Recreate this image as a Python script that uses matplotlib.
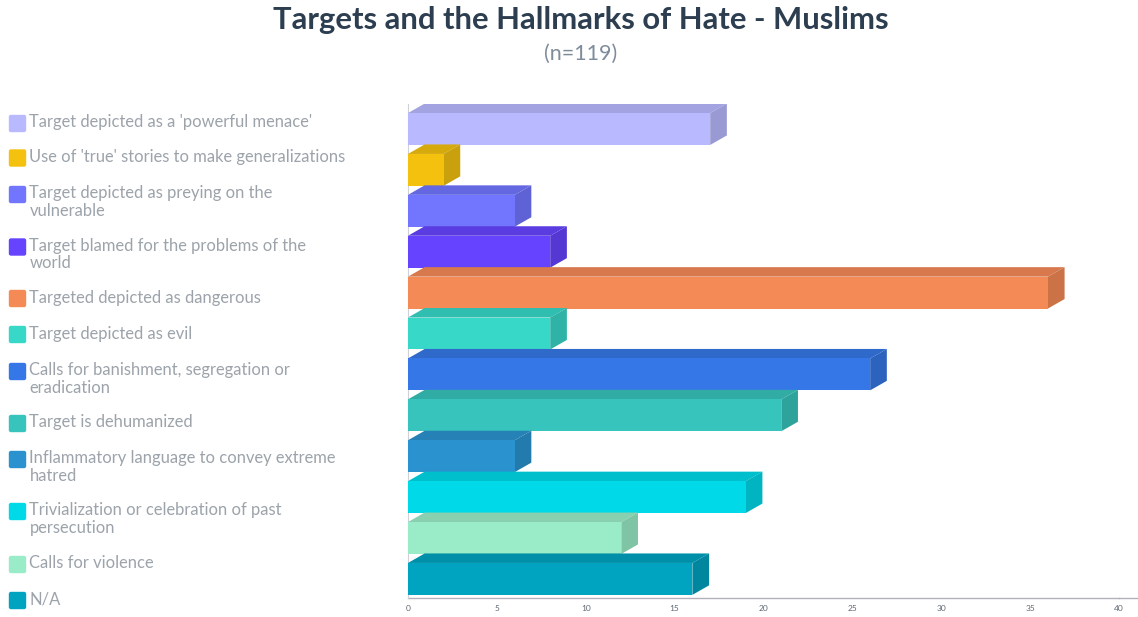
import matplotlib
matplotlib.use('Agg')
import matplotlib.pyplot as plt
from matplotlib.colors import to_rgb
from matplotlib.patches import Polygon, FancyBboxPatch

plt.rcParams['font.family'] = ['Lato', 'DejaVu Sans']

# data, top bar first
labels = ["Target depicted as a 'powerful menace'",
          "Use of 'true' stories to make generalizations",
          "Target depicted as preying on the\nvulnerable",
          "Target blamed for the problems of the\nworld",
          "Targeted depicted as dangerous",
          "Target depicted as evil",
          "Calls for banishment, segregation or\neradication",
          "Target is dehumanized",
          "Inflammatory language to convey extreme\nhatred",
          "Trivialization or celebration of past\npersecution",
          "Calls for violence",
          "N/A"]
values = [17, 2, 6, 8, 36, 8, 26, 21, 6, 19, 12, 16]
colors = ['#b8b9ff', '#f3c10e', '#7276ff', '#6644ff', '#f48a56', '#37d8c8',
          '#3577e6', '#36c4bc', '#2a93cf', '#00d9e8', '#9aecc8', '#00a3c0']
xticks = [0, 5, 10, 15, 20, 25, 30, 35, 40]
legend_y = [123.5, 158, 194.5, 247, 298.5, 334.5, 371.5, 423.5, 459.5, 511.5, 564.5, 600.5]

W, H = 1138, 617
fig = plt.figure(figsize=(W / 100, H / 100), dpi=100)

# overlay in pixel coordinates for titles and legend
bg = fig.add_axes([0, 0, 1, 1])
bg.set_xlim(0, W)
bg.set_ylim(H, 0)
bg.axis('off')

ax_left, ax_right, ax_top, ax_bottom = 408, 1119, 104, 598
ax = fig.add_axes([ax_left / W, 1 - ax_bottom / H, (ax_right - ax_left) / W, (ax_bottom - ax_top) / H])
ax.patch.set_alpha(0)

row = 40.9  # px per category
center0 = 129
ax.set_xlim(0, 40)
ax.set_ylim((ax_bottom - center0) / row, (ax_top - center0) / row)

bar_h = 0.78
dx = 16.7 / 17.8   # depth in x units
dy = 9.5 / row     # depth in category units


def shade(c, k):
    r, g, b = to_rgb(c)
    return (r * k, g * k, b * k)


for i, (v, c) in enumerate(zip(values, colors)):
    z = 3 + i
    top = i - bar_h / 2
    bot = i + bar_h / 2
    ax.add_patch(Polygon([(0, top), (dx, top - dy), (v + dx, top - dy), (v, top)],
                         closed=True, fc=shade(c, 0.88), ec='none', zorder=z))
    ax.add_patch(Polygon([(v, top), (v + dx, top - dy), (v + dx, bot - dy), (v, bot)],
                         closed=True, fc=shade(c, 0.83), ec='none', zorder=z))
    ax.barh(i, v, height=bar_h, color=c, zorder=z)

for s in ['top', 'right']:
    ax.spines[s].set_visible(False)
ax.spines['left'].set_color('#d0d0d8')
ax.spines['bottom'].set_color('#b4b0ba')
ax.spines['left'].set_linewidth(0.8)
ax.spines['bottom'].set_linewidth(1.0)
ax.spines['bottom'].set_zorder(2)
ax.set_yticks([])
ax.set_xticks(xticks)
ax.tick_params(axis='x', length=0, pad=5, labelsize=6, labelcolor='#5f6770')

bg.plot([ax_right, W], [ax_bottom, ax_bottom], color='#b4b0ba', lw=1.0)

bg.text(581, 20.5, 'Targets and the Hallmarks of Hate - Muslims', ha='center', va='center',
        fontsize=22.35, fontweight='bold', color='#2c3e50')
bg.text(581, 54, '(n=119)', ha='center', va='center', fontsize=15.5, color='#7f8c9a')

for lab, c, y in zip(labels, colors, legend_y):
    bg.add_patch(FancyBboxPatch((9.5, y - 8), 16, 16, boxstyle='round,pad=0,rounding_size=1.5',
                                fc=c, ec=c, lw=1))
    if '\n' in lab:
        ty = y + 7.5
    else:
        ty = y - 1
    bg.text(29.5, ty, lab, ha='left', va='center', fontsize=11.93,
            color='#9ca3aa', linespacing=1.08)

fig.savefig('out.png', dpi=100)
